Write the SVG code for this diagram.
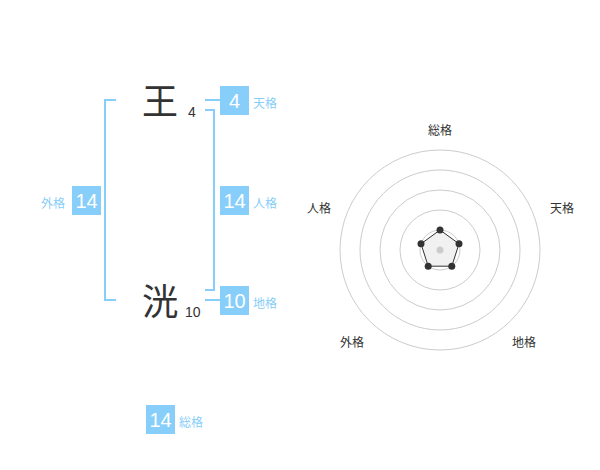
<svg xmlns="http://www.w3.org/2000/svg" width="600" height="470" viewBox="0 0 600 470">
<style>
text{font-family:"Noto Sans CJK JP","Liberation Sans",sans-serif}
.big{font-size:36px;fill:#333;text-anchor:middle}
.sub{font-size:14px;fill:#333;font-family:"Liberation Sans",sans-serif}
.box{fill:#87cefa}
.num{font-size:20px;fill:#fff;text-anchor:middle;font-family:"Liberation Sans","Noto Sans CJK JP",sans-serif}
.lab{font-size:12px;fill:#87cefa}
.br{fill:none;stroke:#87cefa;stroke-width:2}
.ring{fill:none;stroke:#ccc;stroke-width:1}
.rl{font-size:12px;fill:#333;text-anchor:middle}
.dot{fill:#333}
</style>
<rect width="600" height="470" fill="#fff"/>
<g id="connectors">
<path class="br" d="M116,100H105V300H116"/>
<path class="br" d="M205,110H214V290H205"/>
<path class="br" d="M205,100H220"/>
<path class="br" d="M205,300H220"/>
</g>
<g id="char1"><text class="big" x="160" y="115">王</text><text class="sub" x="188" y="117">4</text></g>
<g id="char2"><text class="big" x="160" y="315">洸</text><text class="sub" x="185" y="317">10</text></g>
<g id="gaikaku"><rect class="box" x="72" y="186" width="29" height="29"/><text class="num" x="86.5" y="208">14</text><text class="lab" x="41" y="208">外格</text></g>
<g id="tenkaku"><rect class="box" x="220" y="86" width="29" height="29"/><text class="num" x="234.5" y="108">4</text><text class="lab" x="253" y="108">天格</text></g>
<g id="jinkaku"><rect class="box" x="220" y="186" width="29" height="29"/><text class="num" x="234.5" y="208">14</text><text class="lab" x="253" y="208">人格</text></g>
<g id="chikaku"><rect class="box" x="220" y="286" width="29" height="29"/><text class="num" x="234.5" y="308">10</text><text class="lab" x="253" y="308">地格</text></g>
<g id="soukaku"><rect class="box" x="146" y="405" width="29" height="29"/><text class="num" x="160.5" y="427">14</text><text class="lab" x="179" y="427">総格</text></g>
<g id="radar">
<circle class="ring" cx="440" cy="250" r="100"/>
<circle class="ring" cx="440" cy="250" r="80"/>
<circle class="ring" cx="440" cy="250" r="60"/>
<circle class="ring" cx="440" cy="250" r="40"/>
<circle class="ring" cx="440" cy="250" r="20"/>
<polygon points="440,230 459,243.8 451.8,266.2 428.2,266.2 421,243.8" fill="#eee" fill-opacity="0.8" stroke="#333" stroke-width="1"/>
<circle cx="440" cy="250" r="3.5" fill="#ccc"/>
<circle class="dot" cx="440" cy="230" r="3.5"/>
<circle class="dot" cx="459" cy="243.8" r="3.5"/>
<circle class="dot" cx="451.8" cy="266.2" r="3.5"/>
<circle class="dot" cx="428.2" cy="266.2" r="3.5"/>
<circle class="dot" cx="421" cy="243.8" r="3.5"/>
<text class="rl" x="440" y="135">総格</text>
<text class="rl" x="562" y="213">天格</text>
<text class="rl" x="524" y="347">地格</text>
<text class="rl" x="352" y="347">外格</text>
<text class="rl" x="319" y="213">人格</text>
</g>
</svg>
